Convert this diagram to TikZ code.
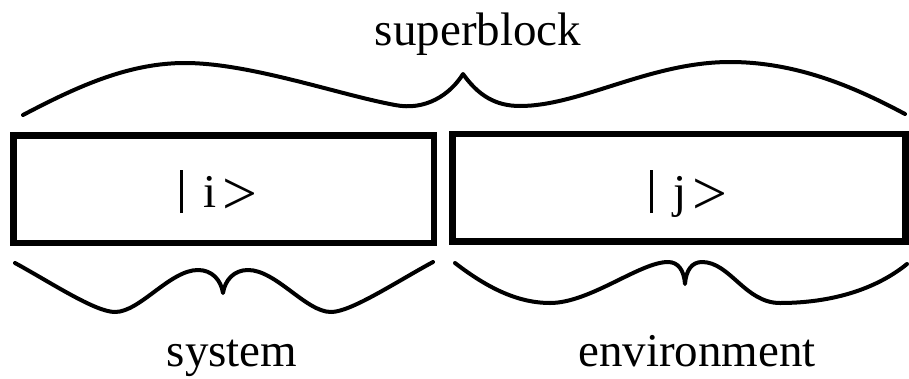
\documentclass[tikz,border=0pt]{standalone}
\usepackage{fontspec}
\setmainfont{Liberation Serif}
\newcommand\ketbar{\rule[-6pt]{3.5pt}{43pt}}
\newcommand\ketgt{\raisebox{-7pt}{\fontsize{62}{62}\selectfont >}}
\begin{document}
\begin{tikzpicture}[x=1pt,y=-1pt,
  box/.style={draw,line width=6.5pt,inner sep=0pt,minimum width=#1,minimum height=107.5pt},
  brace/.style={line width=4pt,line cap=round,line join=round},
  lbl/.style={anchor=base,inner sep=0pt,font=\fontsize{47}{50}\selectfont},
  ket/.style={anchor=base west,inner sep=0pt,font=\fontsize{47}{50}\selectfont}]
\useasboundingbox (0,0) rectangle (909,378);
% boxes
\node[box=420.5pt] (sys) at (223.75,189.25) {};
\node[box=453pt] (env) at (679,187.5) {};
\node[ket] (ki) at (179.5,207) {\ketbar\hspace{20pt}i\hspace{6pt}\ketgt};
\node[ket] (kj) at (649.5,207) {\ketbar\hspace{20pt}j\hspace{6pt}\ketgt};
% top brace
\draw[brace] (23,115) .. controls (80,85) and (130,63) .. (185,63)
  .. controls (250,63) and (340,95) .. (395,105)
  .. controls (425,111) and (450,95) .. (463,74)
  .. controls (478,95) and (495,106) .. (520,106)
  .. controls (580,106) and (650,62) .. (730,62)
  .. controls (800,62) and (860,90) .. (905,114);
% bottom left brace
\draw[brace] (15,263) .. controls (50,282) and (95,312) .. (115,312)
  .. controls (140,312) and (170,270) .. (198,270)
  .. controls (212,270) and (221,280) .. (223,293)
  .. controls (225,280) and (234,270) .. (248,270)
  .. controls (276,270) and (306,312) .. (331,312)
  .. controls (351,312) and (396,282) .. (433,262);
% bottom right brace
\draw[brace] (455,263) .. controls (490,290) and (520,303) .. (550,303)
  .. controls (590,303) and (640,262) .. (668,262)
  .. controls (678,262) and (684,270) .. (685,284)
  .. controls (686,270) and (692,262) .. (702,262)
  .. controls (730,262) and (745,303) .. (780,303)
  .. controls (830,303) and (875,290) .. (907,264);
% labels
\node[lbl] (sb) at (478,45) {superblock};
\node[lbl] (sl) at (232,366) {system};
\node[lbl] (el) at (697,366) {environment};
\end{tikzpicture}
\end{document}
